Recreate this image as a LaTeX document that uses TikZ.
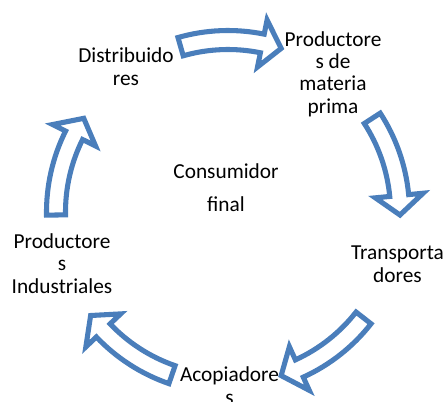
\documentclass[tikz,border=0pt]{standalone}
\usepackage{fontspec}
\setmainfont{Carlito}
\usetikzlibrary{positioning}
\definecolor{arrowblue}{RGB}{74,126,187}
\tikzset{
  lbl/.style = {align=center, inner sep=0pt, anchor=base, font=\fontsize{16}{16.7}\selectfont},
  cyc/.style = {draw=arrowblue, line width=3.8pt, fill=white}
}

\begin{document}
\begin{tikzpicture} [x=0.75pt, y=0.75pt]
\useasboundingbox (0,0) rectangle (448,401);
\coordinate (o) at (228,189);
\node[lbl] (dist) at (126,316) {Distribuido\\res};
\node[lbl] (mat) at (333,288) {Productore\\s de\\materia\\prima};
\node[lbl] (trans) at (397.5,119) {Transporta\\dores};
\node[lbl] (acop) at (229.5,-3) {Acopiadore\\s};
\node[lbl] (ind) at (62,108) {Productore\\s\\Industriales};
\node[lbl] (cons) at (226,190) {Consumidor\\[8pt]final};
% curved block arrows round the centre
\foreach \a in {89,16,-55,-126,164}{
  \draw[cyc, shift={(o)}] (\a+17:181.5) arc[start angle=\a+17, end angle=\a-10.5, radius=181.5]
    -- (\a-10.5:196) -- (\a-17:172) -- (\a-10.5:148) -- (\a-10.5:162.5)
    arc[start angle=\a-10.5, end angle=\a+17, radius=162.5] -- cycle;
}
\end{tikzpicture}
\end{document}
